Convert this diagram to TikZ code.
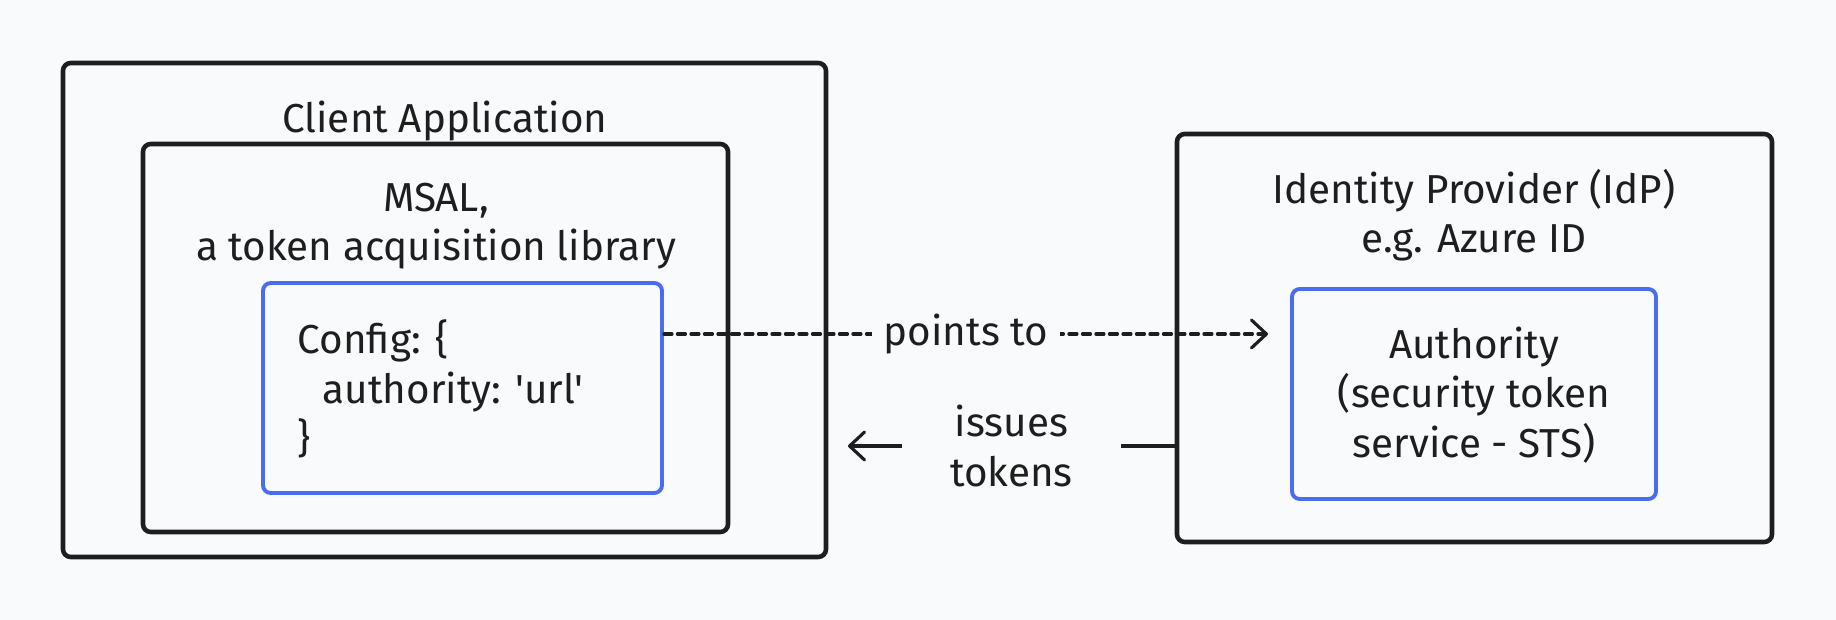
\documentclass[tikz,border=0pt]{standalone}
\usepackage{fontspec}
\setmainfont{Fira Sans}[Ligatures=TeXOff]
\usepackage{xcolor}
\definecolor{Col1}{RGB}{30,30,30}
\definecolor{Col2}{RGB}{74,108,238}
\definecolor{ColBg}{RGB}{249,250,251}
\usetikzlibrary{arrows.meta}
\tikzstyle{Box}=[draw=Col1,line width=1.3pt,rounded corners=2.2pt,
inner sep=0pt]
\tikzstyle{BlueBox}=[draw=Col2,line width=1.1pt,rounded corners=2.2pt,
inner sep=0pt]
\tikzstyle{Text}=[text=Col1,font=\fontsize{11.5}{14}\selectfont,
align=center,inner sep=0pt]
\tikzstyle{Edge}=[draw=Col1,line width=0.9pt,line cap=round,
-{Straight Barb[length=1.5mm,width=2.8mm,round]}]
\tikzstyle{EdgeLabel}=[Text,fill=ColBg,inner ysep=1pt]

\begin{document}
\begin{tikzpicture}[x=0.1mm,y=-0.1mm]
        \fill[ColBg](0,0)rectangle(1836,620);
        \useasboundingbox(0,0)rectangle(1836,620);
        % boxes
        \node[Box,minimum width=76.3mm,minimum height=49.4mm](client)at(444.5,310){};
        \node[Box,minimum width=58.5mm,minimum height=38.8mm](msal)at(435.5,338){};
        \node[BlueBox,minimum width=39.9mm,minimum height=21.0mm](config)at(462.5,388){};
        \node[Box,minimum width=59.5mm,minimum height=40.8mm](idp)at(1474.5,338){};
        \node[BlueBox,minimum width=36.4mm,minimum height=21.0mm](auth)at(1474,394){};
        % texts
        \node[Text](clientT)at(445,121){Client Application};
        \node[Text](msalT)at(436,226){MSAL,\\a token acquisition library};
        \node[Text,align=left,anchor=west](configT)at(297,389){Config: \{\\
            \hspace*{2.5mm}authority: 'url'\\\}};
        \node[Text](idpT)at(1474,215){Identity Provider (IdP)\\e.g. Azure ID};
        \node[Text](authT)at(1474,395){Authority\\(security token\\service - STS)};
        % connectors
        \coordinate(ptsEnd)at(1268,334);
        \coordinate(issEnd)at(848,446);
        \draw[Edge,dash pattern=on 0.8mm off 0.55mm](config.east|-ptsEnd)--
            node[EdgeLabel,inner xsep=1.2mm]{points to}(ptsEnd);
        \draw[Edge](idp.west|-issEnd)--
            node[EdgeLabel,inner xsep=4.8mm]{issues\\tokens}(issEnd);
    \end{tikzpicture}
\end{document}
